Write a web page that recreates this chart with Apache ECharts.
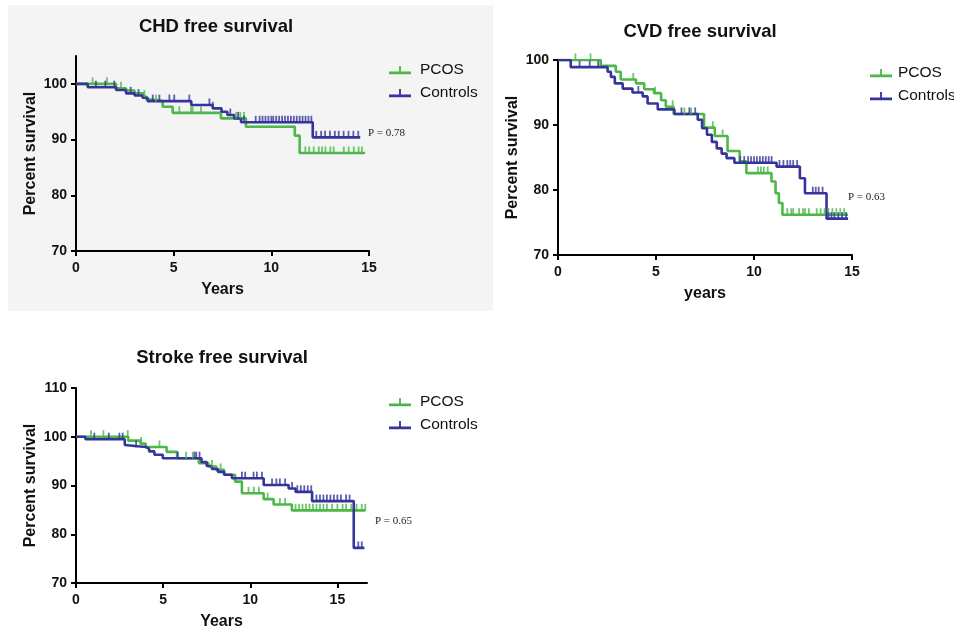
<!DOCTYPE html>
<html>
<head>
<meta charset="utf-8">
<title>Event-free survival: PCOS vs Controls</title>
<script src="https://cdn.jsdelivr.net/npm/echarts@6/dist/echarts.min.js"></script>
<style>
  html, body { margin: 0; padding: 0; background: #ffffff; }
  #chart { width: 954px; height: 628px; }
</style>
</head>
<body>
<div id="chart"></div>
<script>
// ---- Kaplan-Meier step data (years, percent surviving) ----
// CHD free survival
const chdPcosTime = [0, 2.05, 2.56, 3.0, 3.45, 3.6, 3.85, 4.44, 4.95, 7.42, 8.7, 11.2, 11.45];
const chdPcosSurv = [100, 99.2, 98.8, 98.3, 97.7, 97.2, 96.9, 95.9, 94.8, 93.8, 92.3, 90.7, 87.6];
const chdPcosEnd = 14.8;
const chdPcosCens = [0.85, 1.59, 2.3, 3.5, 4.1, 5.29, 5.89, 5.97, 6.4, 8.2, 8.41, 8.6, 11.74, 11.94, 12.17, 12.43, 12.6, 12.77, 13.02, 13.19, 13.71, 13.96, 14.22, 14.47, 14.64];

const chdCtrlTime = [0, 0.6, 2.05, 2.56, 3.0, 3.41, 3.67, 5.9, 7.0, 7.45, 7.75, 8.1, 8.45, 12.12];
const chdCtrlSurv = [100, 99.4, 98.9, 98.3, 97.9, 97.5, 96.9, 96.2, 95.6, 95.0, 94.4, 93.8, 93.1, 90.4];
const chdCtrlEnd = 14.55;
const chdCtrlCens = [1.02, 1.5, 1.96, 2.8, 3.2, 3.93, 4.27, 4.78, 5.03, 5.8, 6.83, 7.0, 7.9, 8.3, 8.6, 9.2, 9.4, 9.55, 9.7, 9.85, 10.0, 10.1, 10.25, 10.4, 10.55, 10.7, 10.85, 11.0, 11.15, 11.3, 11.45, 11.6, 11.75, 11.9, 12.05, 12.3, 12.55, 12.75, 13.0, 13.25, 13.45, 13.7, 13.95, 14.2, 14.45];

// CVD free survival
const cvdPcosTime = [0, 2.18, 2.95, 3.2, 3.98, 4.4, 4.9, 5.26, 5.5, 5.9, 7.45, 8.0, 8.65, 9.27, 9.61, 10.89, 11.1, 11.27, 11.45];
const cvdPcosSurv = [100, 99.1, 98.2, 97.0, 96.4, 95.5, 94.9, 93.8, 92.8, 91.7, 89.6, 88.3, 86.0, 84.4, 82.6, 81.3, 79.5, 78.0, 76.2];
const cvdPcosEnd = 14.8;
const cvdPcosCens = [0.89, 1.66, 3.84, 4.95, 5.85, 6.45, 6.79, 7.9, 8.4, 10.2, 10.35, 10.5, 10.7, 11.7, 11.9, 12.0, 12.3, 12.5, 12.6, 12.8, 13.2, 13.4, 13.6, 13.8, 14.0, 14.2, 14.4, 14.6];

const cvdCtrlTime = [0, 0.65, 2.53, 2.7, 2.9, 3.3, 3.8, 4.32, 4.57, 5.09, 5.94, 7.13, 7.35, 7.6, 7.85, 8.1, 8.35, 8.6, 9.0, 11.15, 12.34, 12.6, 13.7];
const cvdCtrlSurv = [100, 98.9, 98.2, 97.4, 96.4, 95.6, 95.0, 94.4, 93.3, 92.4, 91.7, 90.8, 89.5, 88.5, 87.4, 86.4, 85.6, 84.9, 84.2, 83.6, 81.8, 79.5, 75.6];
const cvdCtrlEnd = 14.8;
const cvdCtrlCens = [1.1, 1.62, 2.05, 4.1, 6.3, 6.7, 7.0, 9.3, 9.5, 9.7, 9.85, 10.0, 10.15, 10.3, 10.45, 10.6, 10.75, 10.9, 11.3, 11.5, 11.7, 11.85, 12.0, 12.2, 13.0, 13.15, 13.3, 13.5, 13.8, 13.95, 14.1, 14.3, 14.5, 14.7];

// Stroke free survival
const strPcosTime = [0, 3.0, 3.7, 4.0, 5.2, 5.8, 7.05, 7.6, 8.05, 8.5, 9.13, 9.52, 10.77, 11.34, 12.39];
const strPcosSurv = [100, 99.2, 98.6, 97.9, 96.9, 95.6, 94.6, 93.9, 93.2, 92.2, 90.8, 88.4, 87.2, 86.1, 84.9];
const strPcosEnd = 16.6;
const strPcosCens = [0.86, 1.57, 2.97, 3.74, 4.79, 6.32, 6.7, 7.8, 8.3, 9.9, 10.2, 10.5, 11.0, 11.7, 12.0, 12.6, 12.8, 13.0, 13.2, 13.4, 13.6, 13.8, 14.0, 14.2, 14.4, 14.7, 15.0, 15.3, 15.5, 15.8, 16.1, 16.4, 16.6];

const strCtrlTime = [0, 0.54, 2.8, 2.9, 4.0, 4.2, 4.5, 4.98, 7.2, 7.5, 7.8, 8.14, 8.5, 8.95, 10.77, 12.2, 12.6, 13.55, 15.94];
const strCtrlSurv = [100, 99.5, 98.3, 97.9, 97.5, 97.0, 96.3, 95.6, 94.8, 94.0, 93.4, 92.8, 92.2, 91.5, 90.1, 89.4, 88.7, 86.8, 77.2];
const strCtrlEnd = 16.55;
const strCtrlCens = [1.05, 1.88, 2.49, 2.68, 3.45, 5.84, 6.8, 6.9, 7.09, 9.52, 9.71, 10.19, 10.38, 10.67, 11.25, 11.5, 11.7, 12.0, 12.4, 12.7, 12.9, 13.1, 13.3, 13.5, 13.8, 14.0, 14.2, 14.4, 14.6, 14.8, 15.0, 15.2, 15.5, 15.7, 16.2, 16.4];

// Axis tick labels
const xTicks = [0, 5, 10, 15];
const yTicksChd = [70, 80, 90, 100];
const yTicksCvd = [70, 80, 90, 100];
const yTicksStroke = [70, 80, 90, 100, 110];

const seriesNames = ['PCOS', 'Controls'];
const pValues = ['P = 0.78', 'P = 0.63', 'P = 0.65'];

// ---- styling ----
const GREEN = '#4cb848';
const BLUE = '#34349a';
const FONT = '"Liberation Sans", Arial, Helvetica, sans-serif';
const SERIF = '"Liberation Serif", "Times New Roman", serif';

function survAt(times, surv, t) {
  let v = surv[0];
  for (let i = 0; i < times.length; i++) {
    if (times[i] <= t) v = surv[i];
  }
  return v;
}
function stepData(times, surv, end) {
  const d = times.map((t, i) => [t, surv[i]]);
  d.push([end, surv[surv.length - 1]]);
  return d;
}
function censData(times, surv, cens) {
  return cens.map(t => [t, survAt(times, surv, t)]);
}

function curve(name, idx, color, times, surv, end, cens) {
  return [
    {
      name: name, type: 'line', step: 'end',
      xAxisIndex: idx, yAxisIndex: idx,
      data: stepData(times, surv, end),
      showSymbol: false, symbol: 'none',
      lineStyle: { color: color, width: 2.6 },
      itemStyle: { color: color },
      animation: false, silent: true, z: 3
    },
    {
      name: name + ' censored', type: 'scatter',
      xAxisIndex: idx, yAxisIndex: idx,
      data: censData(times, surv, cens),
      symbol: 'rect', symbolSize: [1.8, 7], symbolOffset: [0, -3],
      itemStyle: { color: color },
      animation: false, silent: true, z: 4
    }
  ];
}

function xAxis(idx, max, name) {
  return {
    type: 'value', gridIndex: idx, min: 0, max: max, interval: 5,
    name: name, nameLocation: 'middle', nameGap: 31,
    nameTextStyle: { fontFamily: FONT, fontSize: 16, fontWeight: 'bold', color: '#111' },
    axisLine: { show: true, onZero: false, lineStyle: { color: '#000', width: 2 } },
    axisTick: { show: true, length: 5, lineStyle: { color: '#000', width: 2 }, customValues: xTicks },
    axisLabel: { fontFamily: FONT, fontSize: 14, fontWeight: 'bold', color: '#111', margin: 10, customValues: xTicks },
    splitLine: { show: false }
  };
}
function yAxis(idx, min, max, ticks) {
  return {
    type: 'value', gridIndex: idx, min: min, max: max, interval: 10,
    name: 'Percent survival', nameLocation: 'middle', nameGap: 37,
    nameTextStyle: { fontFamily: FONT, fontSize: 16, fontWeight: 'bold', color: '#111' },
    axisLine: { show: true, onZero: false, lineStyle: { color: '#000', width: 2 } },
    axisTick: { show: true, length: 5, lineStyle: { color: '#000', width: 2 }, customValues: ticks },
    axisLabel: { fontFamily: FONT, fontSize: 14, fontWeight: 'bold', color: '#111', margin: 9, customValues: ticks },
    splitLine: { show: false }
  };
}

const legendIcon = 'path://M0,8 L24,8 L24,11 L0,11 Z M11,2 L13,2 L13,9 L11,9 Z';
function legend(left, top, textGap) {
  return {
    data: seriesNames, orient: 'vertical', left: left, top: top,
    icon: legendIcon, itemWidth: 22, itemHeight: 10, itemGap: 7,
    selectedMode: false, padding: 0,
    textStyle: { fontFamily: FONT, fontSize: 15.5, color: '#111', padding: [0, 0, 0, textGap] }
  };
}

function label(text, x, y, font) {
  return { type: 'text', x: x, y: y, silent: true,
    style: Object.assign({ text: text, align: 'center', verticalAlign: 'middle', fill: '#111' }, font) };
}

const titleFont = { fontFamily: FONT, fontSize: 18.5, fontWeight: 'bold' };
const pFont = { fontFamily: SERIF, fontSize: 11, fill: '#222', align: 'left' };

// Fixed plot rectangles; labels and names may sit outside them.
const option = {
  backgroundColor: '#ffffff',
  animation: false,
  grid: [
    { left: 76, top: 56, width: 293, height: 195, outerBoundsMode: 'none', containLabel: false },
    { left: 558, top: 60, width: 294, height: 195, outerBoundsMode: 'none', containLabel: false },
    { left: 76, top: 388, width: 291, height: 195, outerBoundsMode: 'none', containLabel: false }
  ],
  xAxis: [
    xAxis(0, 15, 'Years'),
    xAxis(1, 15, 'years'),
    xAxis(2, 16.7, 'Years')
  ],
  yAxis: [
    yAxis(0, 70, 105, yTicksChd),
    yAxis(1, 70, 100, yTicksCvd),
    yAxis(2, 70, 110, yTicksStroke)
  ],
  legend: [legend(389, 62, 4), legend(870, 65, 1), legend(389, 394, 4)],
  graphic: [
    { type: 'rect', z: -10, silent: true, shape: { x: 8, y: 5, width: 485, height: 306 }, style: { fill: '#f4f4f4' } },
    label('CHD free survival', 216, 27, titleFont),
    label('CVD free survival', 700, 32, titleFont),
    label('Stroke free survival', 222, 358, titleFont),
    label(pValues[0], 368, 133, pFont),
    label(pValues[1], 848, 197, pFont),
    label(pValues[2], 375, 521, pFont)
  ],
  series: [].concat(
    curve('PCOS', 0, GREEN, chdPcosTime, chdPcosSurv, chdPcosEnd, chdPcosCens),
    curve('Controls', 0, BLUE, chdCtrlTime, chdCtrlSurv, chdCtrlEnd, chdCtrlCens),
    curve('PCOS', 1, GREEN, cvdPcosTime, cvdPcosSurv, cvdPcosEnd, cvdPcosCens),
    curve('Controls', 1, BLUE, cvdCtrlTime, cvdCtrlSurv, cvdCtrlEnd, cvdCtrlCens),
    curve('PCOS', 2, GREEN, strPcosTime, strPcosSurv, strPcosEnd, strPcosCens),
    curve('Controls', 2, BLUE, strCtrlTime, strCtrlSurv, strCtrlEnd, strCtrlCens)
  )
};

const chart = echarts.init(document.getElementById('chart'));
chart.setOption(option);
</script>
</body>
</html>
